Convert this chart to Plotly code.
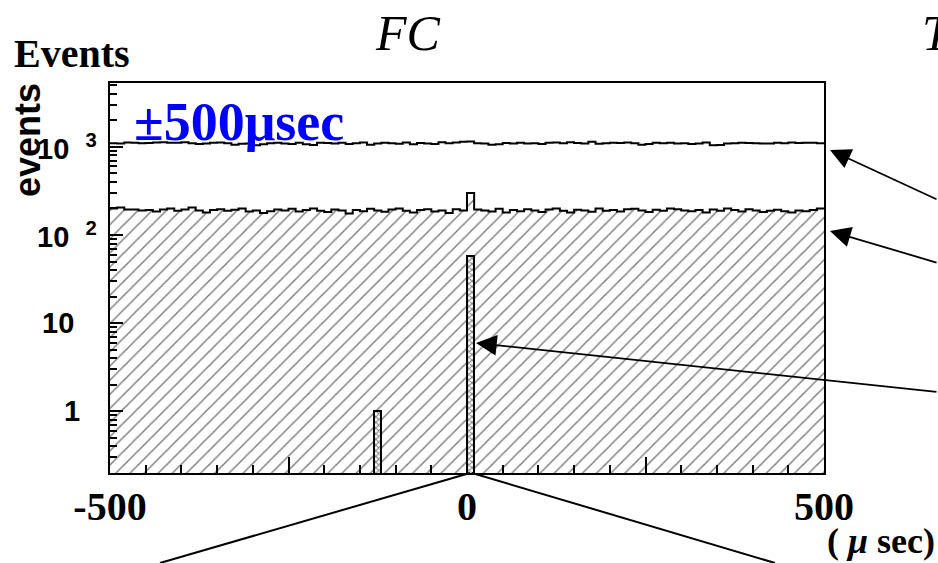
import numpy as np
import plotly.graph_objects as go

# ---- data (10 microsecond bins from -500 to +500) ----
bin_width = 10
bin_edges = list(range(-500, 501, bin_width))
bin_centers = [e + bin_width / 2 for e in bin_edges[:-1]]

upper_counts = [1100, 1090, 1120, 1110, 1100, 1105, 1120, 1130, 1110, 1115,
                1125, 1100, 1080, 1095, 1110, 1120, 1100, 1060, 1085, 1090,
                1040, 1070, 1100, 1110, 1095, 1080, 1110, 1070, 1050, 1110,
                1105, 1090, 1115, 1080, 1100, 1120, 1060, 1095, 1110, 1100,
                1085, 1120, 1070, 1105, 1090, 1080, 1130, 1100, 1120, 1140,
                1150, 1100, 1090, 1060, 1070, 1105, 1090, 1110, 1095, 1100,
                1080, 1110, 1120, 1100, 1130, 1105, 1090, 1140, 1085, 1100,
                1110, 1105, 1120, 1100, 1060, 1080, 1110, 1100, 1115, 1090,
                1100, 1080, 1090, 1120, 1040, 1050, 1090, 1100, 1110, 1105,
                1100, 1090, 1095, 1110, 1100, 1120, 1105, 1115, 1110, 1100]

lower_counts = [200, 205, 195, 195, 190, 192, 185, 195, 200, 188,
                195, 205, 190, 180, 192, 196, 188, 194, 200, 185,
                190, 178, 186, 195, 190, 198, 185, 192, 200, 188,
                182, 195, 190, 176, 192, 186, 198, 190, 184, 195,
                200, 188, 180, 192, 196, 185, 190, 178, 196, 190,
                300, 195, 190, 185, 198, 180, 192, 186, 196, 190,
                182, 195, 200, 188, 180, 194, 190, 184, 200, 188,
                192, 185, 196, 198, 190, 182, 194, 188, 200, 196,
                190, 186, 192, 180, 195, 188, 200, 192, 185, 196,
                190, 182, 188, 194, 186, 180, 190, 186, 192, 200]

signal_centers = [-125, 5]
signal_counts = [1, 58]

x_tickvals = [-500, -250, 0, 250, 500]
x_ticktext = ["-500", "", "0", "", "500"]
y_major = [1, 10, 100, 1000]
y_labels = ["1", "10", "10\u00a0\u00a0<sup>2</sup>", "10\u00a0\u00a0<sup>3</sup>"]
y_label_right_px = [82, 76, 99, 99]

# ---- geometry ----
W, H = 938, 563
L, R, T, B = 110, 114, 83, 90
PW, PH = W - L - R, H - T - B


def px(xp):
    return (xp - L) / PW


def py(yp):
    return (H - B - yp) / PH


y_minor = [m * 10 ** d for d in range(-1, 4) for m in range(2, 10)
           if 0.2 <= m * 10 ** d <= 5300]

fig = go.Figure()

# hatched lower histogram fill
fig.add_trace(go.Bar(
    x=bin_centers, y=lower_counts, width=bin_width,
    marker=dict(color="white", line=dict(width=0),
                pattern=dict(shape="/", fgcolor="black", bgcolor="white",
                             size=10, solidity=0.15)),
    showlegend=False, hoverinfo="skip"))

# lower histogram outline
fig.add_trace(go.Scatter(
    x=bin_edges, y=lower_counts + [lower_counts[-1]], mode="lines",
    line=dict(color="black", width=2, shape="hv"), showlegend=False))

# upper histogram outline
fig.add_trace(go.Scatter(
    x=bin_edges, y=upper_counts + [upper_counts[-1]], mode="lines",
    line=dict(color="black", width=2, shape="hv"), showlegend=False))

# signal (cross-hatched) bins
fig.add_trace(go.Bar(
    x=signal_centers, y=signal_counts, width=bin_width,
    marker=dict(color="white", line=dict(color="black", width=2),
                pattern=dict(shape="x", fgcolor="black", bgcolor="white",
                             size=4, solidity=0.45)),
    showlegend=False))

fig.update_layout(
    width=W, height=H,
    margin=dict(l=L, r=R, t=T, b=B, pad=0),
    paper_bgcolor="white", plot_bgcolor="white",
    barmode="overlay", bargap=0,
    showlegend=False,
)

fig.update_xaxes(
    range=[-500, 500], showgrid=False, zeroline=False,
    showline=True, linecolor="black", linewidth=2, mirror=True,
    tickmode="array", tickvals=x_tickvals, ticktext=x_ticktext,
    ticks="inside", ticklen=16, tickwidth=1.5, tickcolor="black",
    tickfont=dict(family="Liberation Serif", size=40, color="black", weight="bold"),
    ticklabelstandoff=-3,
    minor=dict(tickmode="linear", tick0=-500, dtick=50, ticks="inside",
               ticklen=8, tickwidth=1.5, tickcolor="black", showgrid=False),
)

fig.update_yaxes(
    type="log", range=[np.log10(0.2), np.log10(5300)],
    showgrid=False, zeroline=False,
    showline=True, linecolor="black", linewidth=2, mirror=True,
    tickmode="array", tickvals=y_major, showticklabels=False,
    ticks="inside", ticklen=13, tickwidth=1.5, tickcolor="black",
    minor=dict(tickmode="array", tickvals=y_minor, ticks="inside",
               ticklen=7, tickwidth=1.5, tickcolor="black", showgrid=False),
)

ann = []
for v, lab, rp in zip(y_major, y_labels, y_label_right_px):
    ann.append(dict(x=px(rp), xref="paper", y=np.log10(v), yref="y",
                    text=lab, showarrow=False, xanchor="right", yanchor="middle",
                    font=dict(family="Liberation Sans", size=29, color="black",
                              weight="bold")))

ann += [
    dict(x=px(408), y=py(33), xref="paper", yref="paper", text="<i>FC</i>",
         showarrow=False, xanchor="center", yanchor="middle",
         font=dict(family="Liberation Serif", size=50, color="black")),
    dict(x=px(920), y=py(33), xref="paper", yref="paper", text="<i>T</i>",
         showarrow=False, xanchor="left", yanchor="middle",
         font=dict(family="Liberation Serif", size=50, color="black")),
    dict(x=px(72), y=py(53), xref="paper", yref="paper", text="<b>Events</b>",
         showarrow=False, xanchor="center", yanchor="middle",
         font=dict(family="Liberation Serif", size=40, color="black")),
    dict(x=px(27), y=py(140), xref="paper", yref="paper", text="<b>events</b>",
         showarrow=False, textangle=-90, xanchor="center", yanchor="middle",
         font=dict(family="Liberation Sans", size=36, color="black")),
    dict(x=px(132), y=py(122), xref="paper", yref="paper", text="<b>±500μsec</b>",
         showarrow=False, xanchor="left", yanchor="middle",
         font=dict(family="Liberation Serif", size=54, color="#0000ff")),
    dict(x=px(937), y=py(541), xref="paper", yref="paper",
         text="<b>( <i>μ</i> sec)</b>", showarrow=False, xanchor="right",
         yanchor="middle",
         font=dict(family="Liberation Serif", size=36, color="black")),
]

# arrows pointing at the histograms from the right
for tip, tail in [((830, 150), (950, 200)), ((830, 231), (950, 263)),
                  ((476, 343), (950, 392))]:
    ann.append(dict(x=px(tip[0]), y=py(tip[1]), xref="paper", yref="paper",
                    ax=tail[0] - tip[0], ay=tail[1] - tip[1],
                    axref="pixel", ayref="pixel", text="", showarrow=True,
                    arrowhead=2, arrowsize=2.3, arrowwidth=1.8, arrowcolor="black"))

fig.update_layout(annotations=ann)

fig.update_layout(shapes=[
    dict(type="line", xref="paper", yref="paper", x0=px(470), y0=py(473),
         x1=px(160), y1=py(563), line=dict(color="black", width=2)),
    dict(type="line", xref="paper", yref="paper", x0=px(472), y0=py(473),
         x1=px(775), y1=py(563), line=dict(color="black", width=2)),
])

fig.write_html(
    "out.html",
    config={"displayModeBar": False},
    post_script="document.body.style.margin='0px';"
                "document.body.style.overflow='hidden';",
)
